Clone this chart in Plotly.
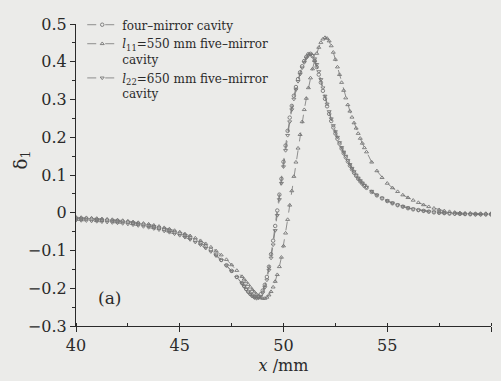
import plotly.graph_objects as go

# ---- data ----
x_left = [40, 40.25, 40.5, 40.75, 41, 41.25, 41.5, 41.75,
          42, 42.25, 42.5, 42.75, 43, 43.25, 43.5, 43.75,
          44, 44.25, 44.5, 44.75, 45, 45.25, 45.5, 45.75,
          46, 46.25, 46.5, 46.75, 47, 47.25, 47.5, 47.75]
x_mid = [48.0, 48.1, 48.2, 48.3, 48.4, 48.5, 48.6, 48.7, 48.8, 48.9,
         49.0, 49.1, 49.2, 49.3, 49.4, 49.5, 49.6, 49.7, 49.8, 49.9,
         50.0, 50.1, 50.2, 50.3, 50.4, 50.5, 50.6, 50.7, 50.8, 50.9,
         51.0, 51.1, 51.2, 51.3, 51.4, 51.5, 51.6, 51.7, 51.8, 51.9,
         52.0, 52.1, 52.2, 52.3, 52.4, 52.5, 52.6, 52.7, 52.8, 52.9,
         53.0, 53.1, 53.2, 53.3, 53.4, 53.5, 53.6, 53.7, 53.8, 53.9,
         54.0]
x_right = [54.25, 54.5, 54.75, 55, 55.25, 55.5, 55.75, 56,
           56.25, 56.5, 56.75, 57, 57.25, 57.5, 57.75, 58,
           58.25, 58.5, 58.75, 59, 59.25, 59.5, 59.75, 60]
x_mm = x_left + x_mid + x_right

four_mirror = [
    -0.015, -0.0155, -0.016, -0.017, -0.018, -0.019, -0.020, -0.021,
    -0.022, -0.0235, -0.025, -0.027, -0.029, -0.0315, -0.034, -0.037,
    -0.040, -0.0435, -0.047, -0.051, -0.055, -0.060, -0.066, -0.073,
    -0.080, -0.089, -0.098, -0.111, -0.125, -0.139, -0.154, -0.170,
    -0.186, -0.194, -0.202, -0.209, -0.215, -0.220, -0.223, -0.224, -0.222, -0.216,
    -0.206, -0.191, -0.170, -0.143, -0.110, -0.074, -0.035, 0.006, 0.048, 0.090,
    0.135, 0.178, 0.217, 0.252, 0.283, 0.310, 0.333, 0.354, 0.372, 0.388,
    0.402, 0.413, 0.420, 0.421, 0.415, 0.403, 0.386, 0.366, 0.345, 0.323,
    0.302, 0.282, 0.262, 0.243, 0.226, 0.210, 0.196, 0.183, 0.170, 0.158,
    0.147, 0.136, 0.125, 0.115, 0.106, 0.098, 0.090, 0.083, 0.077, 0.071,
    0.066,
    0.055, 0.046, 0.038, 0.031, 0.025, 0.020, 0.016, 0.012,
    0.009, 0.007, 0.005, 0.003, 0.001, 0.000, -0.001, -0.002,
    -0.0025, -0.003, -0.0035, -0.004, -0.004, -0.004, -0.004, -0.004]

five_550 = [
    -0.012, -0.0125, -0.013, -0.014, -0.015, -0.016, -0.017, -0.018,
    -0.019, -0.0205, -0.022, -0.024, -0.026, -0.028, -0.030, -0.033,
    -0.036, -0.0395, -0.043, -0.047, -0.051, -0.056, -0.061, -0.067,
    -0.074, -0.082, -0.091, -0.101, -0.112, -0.124, -0.138, -0.153,
    -0.169, -0.176, -0.183, -0.190, -0.197, -0.204, -0.210, -0.216, -0.221, -0.225,
    -0.227, -0.227, -0.224, -0.218, -0.209, -0.197, -0.182, -0.164, -0.143, -0.118,
    -0.088, -0.054, -0.018, 0.020, 0.058, 0.096, 0.134, 0.171, 0.207, 0.241,
    0.273, 0.303, 0.331, 0.357, 0.381, 0.403, 0.422, 0.438, 0.451, 0.460,
    0.464, 0.462, 0.455, 0.442, 0.425, 0.406, 0.386, 0.366, 0.345, 0.324,
    0.304, 0.286, 0.269, 0.253, 0.238, 0.224, 0.210, 0.197, 0.184, 0.172,
    0.161,
    0.134, 0.111, 0.093, 0.078, 0.066, 0.056, 0.047, 0.040,
    0.033, 0.027, 0.021, 0.016, 0.012, 0.008, 0.005, 0.003,
    0.001, 0.000, -0.001, -0.001, -0.002, -0.002, -0.002, -0.002]

five_650 = [
    -0.020, -0.0205, -0.021, -0.022, -0.023, -0.024, -0.025, -0.026,
    -0.027, -0.0285, -0.030, -0.032, -0.034, -0.0365, -0.039, -0.042,
    -0.045, -0.0485, -0.052, -0.056, -0.060, -0.065, -0.071, -0.078,
    -0.085, -0.094, -0.103, -0.114, -0.126, -0.140, -0.155, -0.171,
    -0.187, -0.195, -0.203, -0.210, -0.216, -0.221, -0.225, -0.227, -0.226, -0.221,
    -0.212, -0.198, -0.178, -0.152, -0.120, -0.085, -0.047, -0.007, 0.035, 0.078,
    0.122, 0.165, 0.205, 0.241, 0.273, 0.301, 0.326, 0.348, 0.367, 0.384,
    0.398, 0.410, 0.417, 0.420, 0.417, 0.408, 0.393, 0.374, 0.353, 0.331,
    0.309, 0.288, 0.268, 0.249, 0.231, 0.215, 0.200, 0.186, 0.173, 0.161,
    0.150, 0.139, 0.128, 0.118, 0.109, 0.100, 0.092, 0.085, 0.079, 0.073,
    0.068,
    0.057, 0.047, 0.039, 0.032, 0.026, 0.021, 0.017, 0.013,
    0.010, 0.007, 0.005, 0.003, 0.002, 0.000, -0.001, -0.002,
    -0.003, -0.003, -0.004, -0.004, -0.005, -0.005, -0.005, -0.005]

series_names = ["four\u2013mirror cavity",
                "<i>l</i><sub>11</sub>=550 mm five\u2013mirror<br>cavity",
                "<i>l</i><sub>22</sub>=650 mm five\u2013mirror<br>cavity"]
series_values = [four_mirror, five_550, five_650]
series_symbols = ["circle-open", "triangle-up-open", "triangle-down-open"]

x_ticks = [40, 45, 50, 55, 60]
y_ticks = [-0.3, -0.2, -0.1, 0, 0.1, 0.2, 0.3, 0.4, 0.5]

FONT = "DejaVu Serif"
INK = "#2a2a2a"
GRAY = "#767676"
BG = "#ebebe9"

fig = go.Figure()
for name, vals, sym in zip(series_names, series_values, series_symbols):
    fig.add_trace(go.Scatter(
        x=x_mm, y=vals, name=name, mode="lines+markers",
        line=dict(color=GRAY, width=0.8, dash="dash"),
        marker=dict(symbol=sym, size=3.5, color=GRAY, line=dict(width=0.9, color=GRAY)),
    ))

fig.add_annotation(x=41.6, y=-0.225, text="(a)", showarrow=False,
                   font=dict(family=FONT, size=17, color=INK))
# y-axis title
fig.add_annotation(xref="paper", yref="paper", x=-0.165, y=0.55, textangle=-90,
                   text="\u03b4<sub>1</sub>", showarrow=False,
                   font=dict(family=FONT, size=18, color=INK))

fig.update_layout(
    width=501, height=381,
    margin=dict(l=76, r=10, t=17, b=55),
    paper_bgcolor=BG, plot_bgcolor=BG,
    font=dict(family=FONT, size=16, color=INK),
    showlegend=True,
    legend=dict(x=0.015, y=1.045, xanchor="left", yanchor="top", valign="top",
                bgcolor="rgba(0,0,0,0)", font=dict(family=FONT, size=12, color=INK),
                tracegroupgap=0, itemwidth=30),
    xaxis=dict(range=[40, 60], tickvals=x_ticks, ticktext=[str(v) for v in x_ticks],
               automargin=False,
               showgrid=False, zeroline=False, showline=True, linecolor=INK, linewidth=1.2,
               ticks="outside", ticklen=5, tickcolor=INK,
               minor=dict(dtick=2.5, ticks="inside", ticklen=3, tickcolor=INK, showgrid=False),
               title=dict(text="<i>x</i> /mm", font=dict(family=FONT, size=16, color=INK), standoff=5),
               tickfont=dict(family=FONT, size=16, color=INK)),
    yaxis=dict(range=[-0.3, 0.5], tickvals=y_ticks,
               ticktext=["\u22120.3", "\u22120.2", "\u22120.1", "0", "0.1", "0.2", "0.3", "0.4", "0.5"],
               automargin=False,
               showgrid=False, zeroline=False, showline=True, linecolor=INK, linewidth=1.2,
               ticks="outside", ticklen=5, tickcolor=INK,
               minor=dict(dtick=0.05, ticks="outside", ticklen=3, tickcolor=INK, showgrid=False),
               tickfont=dict(family=FONT, size=16, color=INK)),
)

fig.write_html("out.html")
